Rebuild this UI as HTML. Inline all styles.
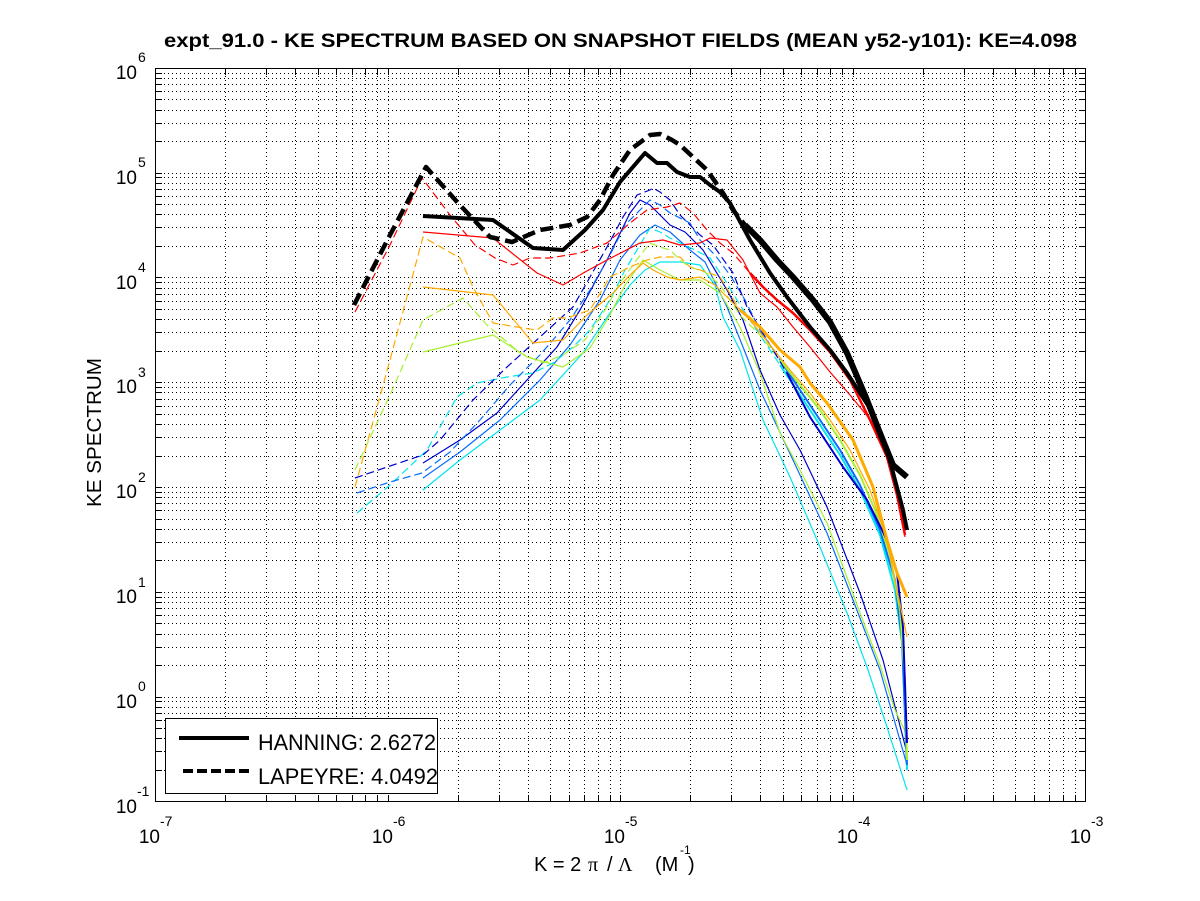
<!DOCTYPE html>
<html>
<head>
<meta charset="utf-8">
<style>
html,body{margin:0;padding:0;background:#fff;}
svg{display:block;}
text{font-family:"Liberation Sans",Arial,sans-serif;fill:#000;}
</style>
</head>
<body>
<svg width="1200" height="901" viewBox="0 0 1200 901" xmlns="http://www.w3.org/2000/svg">
<defs>
<clipPath id="tv"><rect x="150" y="68" width="940" height="7"/><rect x="150" y="795" width="940" height="7"/></clipPath>
<clipPath id="th"><rect x="155" y="60" width="7" height="750"/><rect x="1079" y="60" width="7" height="750"/></clipPath>
<clipPath id="plot"><rect x="155" y="68" width="931" height="734"/></clipPath>
</defs>

<!-- grid (dotted) -->
<g fill="none" stroke="#000" stroke-width="1" shape-rendering="crispEdges">
<path stroke-dasharray="1,3" d="M225.5 68V802M266.5 68V802M295.5 68V802M318.5 68V802M336.5 68V802M352.5 68V802M365.5 68V802M377.5 68V802M388.5 68V802M458.5 68V802M499.5 68V802M528.5 68V802M550.5 68V802M569.5 68V802M584.5 68V802M598.5 68V802M610.5 68V802M620.5 68V802M690.5 68V802M731.5 68V802M760.5 68V802M783.5 68V802M801.5 68V802M817.5 68V802M830.5 68V802M842.5 68V802M853.5 68V802M923.5 68V802M964.5 68V802M993.5 68V802M1015.5 68V802M1034.5 68V802M1049.5 68V802M1063.5 68V802M1075.5 68V802"/>
<path stroke-dasharray="1,3" d="M156 770.5H1086M156 751.5H1086M156 738.5H1086M156 728.5H1086M156 720.5H1086M156 713.5H1086M156 707.5H1086M156 701.5H1086M156 697.5H1086M156 665.5H1086M156 647.5H1086M156 634.5H1086M156 623.5H1086M156 615.5H1086M156 608.5H1086M156 602.5H1086M156 597.5H1086M156 592.5H1086M156 560.5H1086M156 542.5H1086M156 529.5H1086M156 519.5H1086M156 510.5H1086M156 503.5H1086M156 497.5H1086M156 492.5H1086M156 487.5H1086M156 456.5H1086M156 437.5H1086M156 424.5H1086M156 414.5H1086M156 406.5H1086M156 399.5H1086M156 392.5H1086M156 387.5H1086M156 382.5H1086M156 351.5H1086M156 332.5H1086M156 319.5H1086M156 309.5H1086M156 301.5H1086M156 294.5H1086M156 288.5H1086M156 282.5H1086M156 277.5H1086M156 246.5H1086M156 227.5H1086M156 214.5H1086M156 204.5H1086M156 196.5H1086M156 189.5H1086M156 183.5H1086M156 177.5H1086M156 173.5H1086M156 141.5H1086M156 123.5H1086M156 110.5H1086M156 99.5H1086M156 91.5H1086M156 84.5H1086M156 78.5H1086M156 73.5H1086"/>
<!-- ticks -->
<path clip-path="url(#tv)" d="M225.5 68V802M266.5 68V802M295.5 68V802M318.5 68V802M336.5 68V802M352.5 68V802M365.5 68V802M377.5 68V802M388.5 68V802M458.5 68V802M499.5 68V802M528.5 68V802M550.5 68V802M569.5 68V802M584.5 68V802M598.5 68V802M610.5 68V802M620.5 68V802M690.5 68V802M731.5 68V802M760.5 68V802M783.5 68V802M801.5 68V802M817.5 68V802M830.5 68V802M842.5 68V802M853.5 68V802M923.5 68V802M964.5 68V802M993.5 68V802M1015.5 68V802M1034.5 68V802M1049.5 68V802M1063.5 68V802M1075.5 68V802"/>
<path clip-path="url(#th)" d="M156 770.5H1086M156 751.5H1086M156 738.5H1086M156 728.5H1086M156 720.5H1086M156 713.5H1086M156 707.5H1086M156 701.5H1086M156 697.5H1086M156 665.5H1086M156 647.5H1086M156 634.5H1086M156 623.5H1086M156 615.5H1086M156 608.5H1086M156 602.5H1086M156 597.5H1086M156 592.5H1086M156 560.5H1086M156 542.5H1086M156 529.5H1086M156 519.5H1086M156 510.5H1086M156 503.5H1086M156 497.5H1086M156 492.5H1086M156 487.5H1086M156 456.5H1086M156 437.5H1086M156 424.5H1086M156 414.5H1086M156 406.5H1086M156 399.5H1086M156 392.5H1086M156 387.5H1086M156 382.5H1086M156 351.5H1086M156 332.5H1086M156 319.5H1086M156 309.5H1086M156 301.5H1086M156 294.5H1086M156 288.5H1086M156 282.5H1086M156 277.5H1086M156 246.5H1086M156 227.5H1086M156 214.5H1086M156 204.5H1086M156 196.5H1086M156 189.5H1086M156 183.5H1086M156 177.5H1086M156 173.5H1086M156 141.5H1086M156 123.5H1086M156 110.5H1086M156 99.5H1086M156 91.5H1086M156 84.5H1086M156 78.5H1086M156 73.5H1086"/>
</g>

<!-- data -->
<g fill="none" stroke-linejoin="round" clip-path="url(#plot)">
<!-- cyan solid -->
<polyline stroke="#00e5ee" stroke-width="1.2" points="423,490 460,460 500,430 540,400 583,353 610,313 630,285 645,270 660,262 680,262 700,265 715,285 723,317 740,350 763,420 790,477 820,547 847,613 867,667 887,727 907,790"/>
<!-- blue solid -->
<polyline stroke="#0a6cff" stroke-width="1.2" points="423,478 460,452 500,420 540,380 570,345 600,300 620,260 640,235 655,225 670,232 690,250 705,262 727,307 743,347 760,390 793,460 827,533 853,600 880,670 907,765"/>
<!-- dark blue solid -->
<polyline stroke="#0000cc" stroke-width="1.2" points="423,463 460,440 497,413 527,380 557,347 580,310 607,260 630,213 640,200 650,205 660,215 670,225 685,232 703,250 727,290 743,320 760,370 780,415 800,450 827,507 860,593 883,660 907,753"/>
<!-- green-yellow solid -->
<polyline stroke="#a8f030" stroke-width="1.2" points="423,352 493,335 527,357 563,367 590,348 610,315 625,285 643,260 660,270 680,280 700,280 720,293 740,327 760,373 780,433 800,470 827,523 860,613 880,665 895,710 907,735"/>
<!-- cyan dashed -->
<polyline stroke="#00e5ee" stroke-width="1.2" stroke-dasharray="8,4" points="357,513 390,485 427,450 457,397 477,383 507,377 533,373 553,363 573,347 590,330 610,300 625,270 640,245 650,228 660,232 670,238 680,243 695,250 710,258 725,280 740,305 760,335 780,365 800,395 820,425 840,455 860,490 880,535 895,590 903,650 907,770"/>
<polyline stroke="#00e5ee" stroke-width="2" points="780,365 800,395 820,425 840,455 860,490 880,535 895,590 903,650 907,770"/>
<!-- blue dashed -->
<polyline stroke="#0a6cff" stroke-width="1.2" stroke-dasharray="8,4" points="357,493 390,482 422,473 450,452 480,420 510,385 540,355 570,320 590,290 610,255 625,225 640,210 650,200 660,205 670,213 690,223 700,240 715,255 730,275 745,300 760,330 780,360 800,390 820,420 840,450 860,485 880,530 895,580 902,640 907,765"/>
<polyline stroke="#0a6cff" stroke-width="2" points="780,360 800,390 820,420 840,450 860,485 880,530 895,580 902,640 907,765"/>
<!-- green-yellow dashed -->
<polyline stroke="#a8f030" stroke-width="1.2" stroke-dasharray="8,4" points="355,470 390,395 423,320 463,298 487,325 520,353 543,363 563,355 585,340 605,310 620,283 635,262 650,243 660,247 670,250 680,260 690,267 705,272 720,285 740,315 760,335 780,360 800,385 820,410 840,440 860,475 875,510 890,555 900,610 905,680 907,760"/>
<polyline stroke="#a8f030" stroke-width="2" points="780,360 800,385 820,410 840,440 860,475 875,510 890,555 900,610 905,680 907,760"/>
<!-- dark blue dashed -->
<polyline stroke="#0000cc" stroke-width="1.2" stroke-dasharray="8,4" points="355,478 390,466 423,455 440,440 473,400 507,367 540,337 573,307 590,277 607,247 623,217 637,195 650,190 653,188 660,192 670,200 680,215 690,225 700,235 713,245 733,273 747,307 767,340 787,373 810,417 843,467 867,500 887,540 897,573 903,627 907,743"/>
<polyline stroke="#0000cc" stroke-width="2" points="787,373 810,417 843,467 867,500 887,540 897,573 903,627 907,743"/>
<!-- orange solid -->
<polyline stroke="#ffaa00" stroke-width="1.2" points="423,287 493,295 533,343 563,340 587,315 613,293 630,275 643,263 653,270 667,277 680,280 700,277 715,285 730,300 750,320 770,345 790,370 810,393 830,420 850,450 870,490 887,540 897,590 907,637"/>
<!-- orange dashed -->
<polyline stroke="#ffaa00" stroke-width="1.2" stroke-dasharray="8,4" points="355,487 390,360 423,237 460,258 473,287 493,323 523,328 537,330 553,318 567,318 590,310 610,277 630,267 647,260 660,257 670,257 680,257 690,267 707,272 720,277 740,310 760,327 780,350 800,367 810,383 827,403 853,440 873,487 887,540 897,573 907,597"/>
<polyline stroke="#ffaa00" stroke-width="3" points="740,310 760,327 780,350 800,367 810,383 827,403 853,440 873,487 887,540 897,573 907,597"/>
<!-- red solid -->
<polyline stroke="#ff0000" stroke-width="1.2" points="423,232 493,238 537,273 563,285 585,272 607,260 640,243 663,240 680,245 700,243 710,238 727,240 743,260 760,293 777,307 793,327 810,347 830,372 850,395 873,423 890,460 905,537"/>
<!-- red dashed -->
<polyline stroke="#ff0000" stroke-width="1.2" stroke-dasharray="8,4" points="355,312 390,245 422,178 450,215 475,245 495,258 513,265 530,258 550,258 580,253 607,243 630,223 647,210 667,207 680,203 693,213 707,230 720,243 733,253 750,273 763,287 777,300 793,313 810,330 830,352 850,380 870,420 887,457 897,495 905,535"/>
<polyline stroke="#ff0000" stroke-width="2.5" points="750,273 763,287 777,300 793,313 810,330 830,352 850,380 870,420 887,457 897,495 905,535"/>
<!-- black solid (HANNING) -->
<polyline stroke="#000" stroke-width="4" points="423,216 493,220 533,248 563,250 585,230 603,210 620,182 645,153 657,163 667,163 677,172 690,177 700,177 710,185 720,192 730,203 743,227 750,240 770,273 787,297 810,327 830,350 847,373 873,413 887,450 895,480 903,510 907,530"/>
<!-- black dashed (LAPEYRE) -->
<polyline stroke="#000" stroke-width="4.5" stroke-dasharray="13,6" points="354,305 390,235 426,167 458,203 490,237 512,242 540,230 570,225 587,217 600,200 613,175 630,150 650,135 660,134 672,140 680,145 693,157 707,170 723,193 733,210 745,225"/>
<polyline stroke="#000" stroke-width="6" points="745,225 760,240 777,260 793,277 813,300 830,322 847,353 865,395 880,433 893,465 907,477"/>
</g>

<!-- axes box -->
<rect x="155.5" y="68.5" width="930" height="733" fill="none" stroke="#000" stroke-width="1" shape-rendering="crispEdges"/>

<!-- legend -->
<rect x="165.5" y="718.5" width="272" height="75" fill="#fff" stroke="#000" stroke-width="1" shape-rendering="crispEdges"/>
<line x1="179" y1="738" x2="249" y2="738" stroke="#000" stroke-width="4"/>
<line x1="183" y1="771" x2="249" y2="771" stroke="#000" stroke-width="4" stroke-dasharray="10,4"/>
<text x="258" y="750" font-size="22" textLength="178" lengthAdjust="spacingAndGlyphs">HANNING: 2.6272</text>
<text x="258" y="784" font-size="22" textLength="180" lengthAdjust="spacingAndGlyphs">LAPEYRE: 4.0492</text>

<!-- title -->
<text x="164" y="47" font-size="19" font-weight="bold" textLength="913" lengthAdjust="spacingAndGlyphs">expt_91.0 - KE SPECTRUM BASED ON SNAPSHOT FIELDS (MEAN y52-y101): KE=4.098</text>

<!-- y tick labels -->
<g font-size="19">
<text x="137" y="79" text-anchor="end">10</text><text x="138" y="62" font-size="14">6</text>
<text x="137" y="184" text-anchor="end">10</text><text x="138" y="167" font-size="14">5</text>
<text x="137" y="289" text-anchor="end">10</text><text x="138" y="272" font-size="14">4</text>
<text x="137" y="393" text-anchor="end">10</text><text x="138" y="377" font-size="14">3</text>
<text x="137" y="498" text-anchor="end">10</text><text x="138" y="482" font-size="14">2</text>
<text x="137" y="603" text-anchor="end">10</text><text x="138" y="587" font-size="14">1</text>
<text x="137" y="708" text-anchor="end">10</text><text x="138" y="691" font-size="14">0</text>
<text x="137" y="813" text-anchor="end">10</text><text x="137" y="796" font-size="14">-1</text>
</g>

<!-- x tick labels -->
<g font-size="19">
<text x="160" y="843" text-anchor="end">10</text><text x="160" y="826" font-size="14">-7</text>
<text x="393" y="843" text-anchor="end">10</text><text x="393" y="826" font-size="14">-6</text>
<text x="625" y="843" text-anchor="end">10</text><text x="625" y="826" font-size="14">-5</text>
<text x="858" y="843" text-anchor="end">10</text><text x="858" y="826" font-size="14">-4</text>
<text x="1091" y="843" text-anchor="end">10</text><text x="1091" y="826" font-size="14">-3</text>
</g>

<!-- x axis label -->
<g font-size="20">
<text x="534" y="871">K = 2</text>
<text x="588" y="871" style="font-family:'Liberation Serif',serif">π</text>
<text x="607" y="871">/</text>
<text x="618" y="871" style="font-family:'Liberation Serif',serif">Λ</text>
<text x="655" y="871">(M</text>
<text x="680" y="854" font-size="12">-1</text>
<text x="688" y="871">)</text>
</g>

<!-- y axis label -->
<text transform="translate(101,507) rotate(-90)" font-size="20" textLength="149" lengthAdjust="spacingAndGlyphs">KE SPECTRUM</text>
</svg>
</body>
</html>
